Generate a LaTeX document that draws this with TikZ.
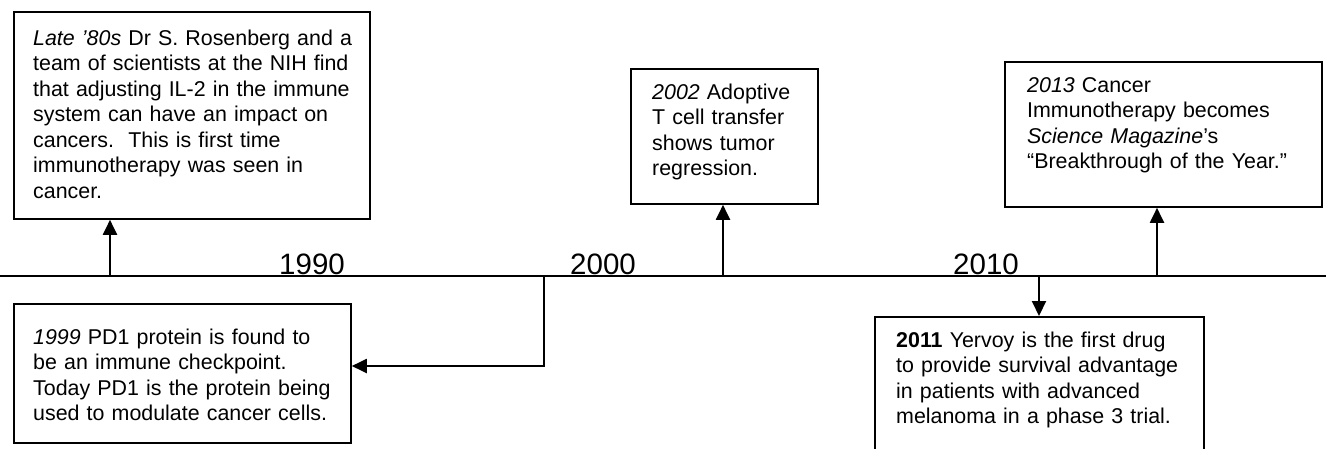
\documentclass[tikz,border=0pt]{standalone}
\usepackage{fontspec}
\setmainfont{Liberation Sans}
\usetikzlibrary{arrows.meta}
\begin{document}
\begin{tikzpicture}[x=1pt,y=-1pt,
  box/.style={draw=black,line width=1.8pt,rectangle,inner sep=0pt,anchor=north west},
  txt/.style={inner sep=0pt,anchor=base west,align=left,text width=#1,font=\fontsize{21.4}{25.5}\selectfont},
  yearlab/.style={inner sep=0pt,anchor=base west,font=\fontsize{29.5}{31}\selectfont},
  arr/.style={line width=2pt,-{Triangle[length=15pt,width=14pt]}},
  tl/.style={line width=2pt}]
\useasboundingbox (0,0) rectangle (1326,448);
\clip (0,0) rectangle (1326,448);
% timeline
\coordinate (L) at (0,276);
\coordinate (R) at (1326,276);
\draw[tl] (L) -- (R);
% year labels
\node[yearlab] (y1990) at (279,274) {1990};
\node[yearlab] (y2000) at (570,274) {2000};
\node[yearlab] (y2010) at (953,274) {2010};
% boxes
\node[box,minimum width=356pt,minimum height=207pt] (b1) at (13,11) {};
\node[box,minimum width=337pt,minimum height=139pt] (b2) at (13,303) {};
\node[box,minimum width=187pt,minimum height=135pt] (b3) at (630,68) {};
\node[box,minimum width=317pt,minimum height=145pt] (b4) at (1004,61) {};
\node[box,minimum width=329pt,minimum height=160pt] (b5) at (874,316) {};
% texts
\node[txt=334pt] (t1) at (33,45) {\textit{Late ’80s} Dr S. Rosenberg and a\\team of scientists at the NIH find\\that adjusting IL-2 in the immune\\system can have an impact on\\cancers.\ \ This is first time\\immunotherapy was seen in\\cancer.};
\node[txt=315pt] (t2) at (33,344) {\textit{1999} PD1 protein is found to\\be an immune checkpoint.\\Today PD1 is the protein being\\used to modulate cancer cells.};
\node[txt=160pt] (t3) at (652,99) {\textit{2002} Adoptive\\T cell transfer\\shows tumor\\regression.};
\node[txt=290pt] (t4) at (1027,92) {\textit{2013} Cancer\\Immunotherapy becomes\\\textit{Science Magazine}’s\\“Breakthrough of the Year.”};
\node[txt=305pt] (t5) at (896,347) {\textbf{2011} Yervoy is the first drug\\to provide survival advantage\\in patients with advanced\\melanoma in a phase 3 trial.};
% connectors
\coordinate (p1) at (110,276);
\coordinate (p2) at (544,276);
\coordinate (p2b) at (544,366);
\coordinate (p3) at (723,276);
\coordinate (p4) at (1157,276);
\coordinate (p5) at (1039,276);
\draw[arr] (p1) -- (b1.south -| p1);
\draw[arr] (p3) -- (b3.south -| p3);
\draw[arr] (p4) -- (b4.south -| p4);
\draw[arr] (p5) -- (b5.north -| p5);
\draw[arr] (p2) -- (p2b) -- (b2.east |- p2b);
\end{tikzpicture}
\end{document}
